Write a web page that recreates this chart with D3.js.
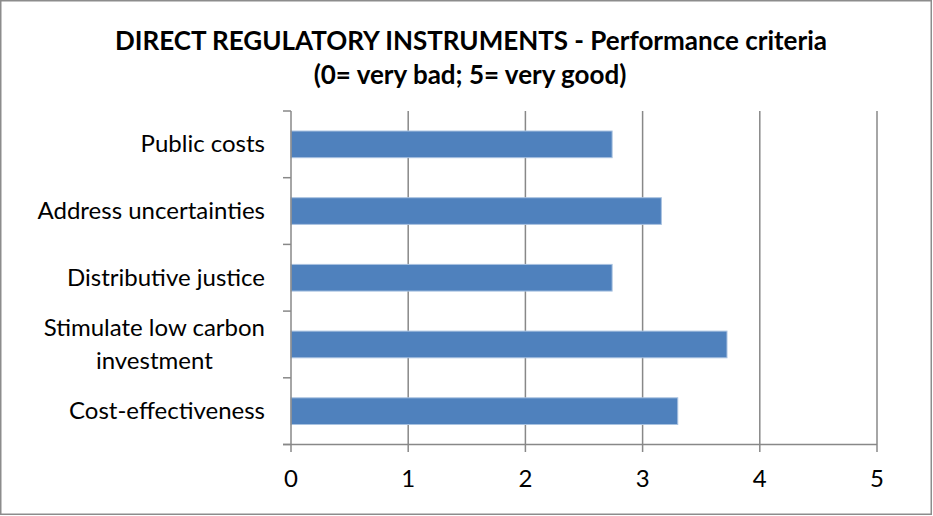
<!DOCTYPE html>
<html><head><meta charset="utf-8">
<script src="https://cdn.jsdelivr.net/npm/d3@7"></script>
<style>html,body{margin:0;padding:0;background:#fff;}svg{display:block;}</style>
</head><body>
<script>
const categories = ["Public costs", "Address uncertainties", "Distributive justice", "Stimulate low carbon investment", "Cost-effectiveness"];
const labelLines = [["Public costs"], ["Address uncertainties"], ["Distributive justice"], ["Stimulate low carbon", "investment"], ["Cost-effectiveness"]];
const values = [2.74, 3.16, 2.74, 3.72, 3.30];
const xTicks = [0, 1, 2, 3, 4, 5];
const titleLines = ["DIRECT REGULATORY INSTRUMENTS - Performance criteria", "(0= very bad; 5= very good)"];

(function () {
const W = 933, H = 516;
const FONT = "Lato, 'Open Sans', sans-serif";
const svg = d3.select("body").append("svg").attr("width", W).attr("height", H);
svg.append("rect").attr("x", 0.75).attr("y", 0.75).attr("width", W - 2.5).attr("height", H - 2.5)
  .attr("fill", "#fff").attr("stroke", "#8c8c8c").attr("stroke-width", 1.5);

const pL = 291, pR = 877, pT = 111, pB = 444.5;
const x = d3.scaleLinear().domain([0, 5]).range([pL, pR]);
const y = d3.scaleBand().domain(categories).range([pT, pB]).paddingInner(0.6).paddingOuter(0.3);
const yb = d3.scaleBand().domain(categories).range([pT, pB]);

const gridColor = "#888888";
svg.append("g").selectAll("line").data(xTicks.slice(1)).join("line")
  .attr("x1", d => x(d)).attr("x2", d => x(d)).attr("y1", pT).attr("y2", pB + 7.5)
  .attr("stroke", gridColor).attr("stroke-width", 1.5);

svg.append("g").selectAll("rect").data(values).join("rect")
  .attr("x", x(0)).attr("y", (d, i) => y(categories[i]))
  .attr("width", d => x(d) - x(0)).attr("height", y.bandwidth())
  .attr("fill", "#4f81bd").attr("stroke", "#a9c2e0").attr("stroke-width", 1);

svg.append("line").attr("x1", pL).attr("x2", pL).attr("y1", pT).attr("y2", pB + 7.5)
  .attr("stroke", gridColor).attr("stroke-width", 1.5);
const bounds = categories.map(c => yb(c)).concat([pB]);
svg.append("g").selectAll("line").data(bounds).join("line")
  .attr("x1", pL - 8).attr("x2", pL).attr("y1", d => d).attr("y2", d => d)
  .attr("stroke", gridColor).attr("stroke-width", 1.5);
svg.append("line").attr("x1", pL - 8).attr("x2", pR).attr("y1", pB).attr("y2", pB)
  .attr("stroke", gridColor).attr("stroke-width", 1.5);

svg.append("g").selectAll("text").data(xTicks).join("text")
  .attr("x", d => x(d)).attr("y", 486.5).attr("text-anchor", "middle")
  .attr("font-family", FONT).attr("font-size", 24).attr("fill", "#000").text(d => d);

const lab = svg.append("g").attr("font-family", FONT).attr("font-size", 24).attr("fill", "#000");
labelLines.forEach((lines, i) => {
  const cy = yb(categories[i]) + yb.bandwidth() / 2;
  const lh = 32.6;
  const t = lab.append("text").attr("text-anchor", "middle");
  lines.forEach((s, j) => {
    t.append("tspan").attr("x", 0).attr("y", cy + 8 + (j - (lines.length - 1) / 2) * lh).text(s);
  });
  const tw = t.node().getBBox().width;
  t.selectAll("tspan").attr("x", 265 - tw / 2);
});

const tt = svg.append("g").attr("font-family", FONT).attr("font-size", 26).attr("font-weight", "bold").attr("fill", "#000");
tt.append("text").attr("x", 471).attr("y", 50).attr("text-anchor", "middle").text(titleLines[0]);
tt.append("text").attr("x", 470).attr("y", 84).attr("text-anchor", "middle").text(titleLines[1]);
})();
</script>
</body></html>
